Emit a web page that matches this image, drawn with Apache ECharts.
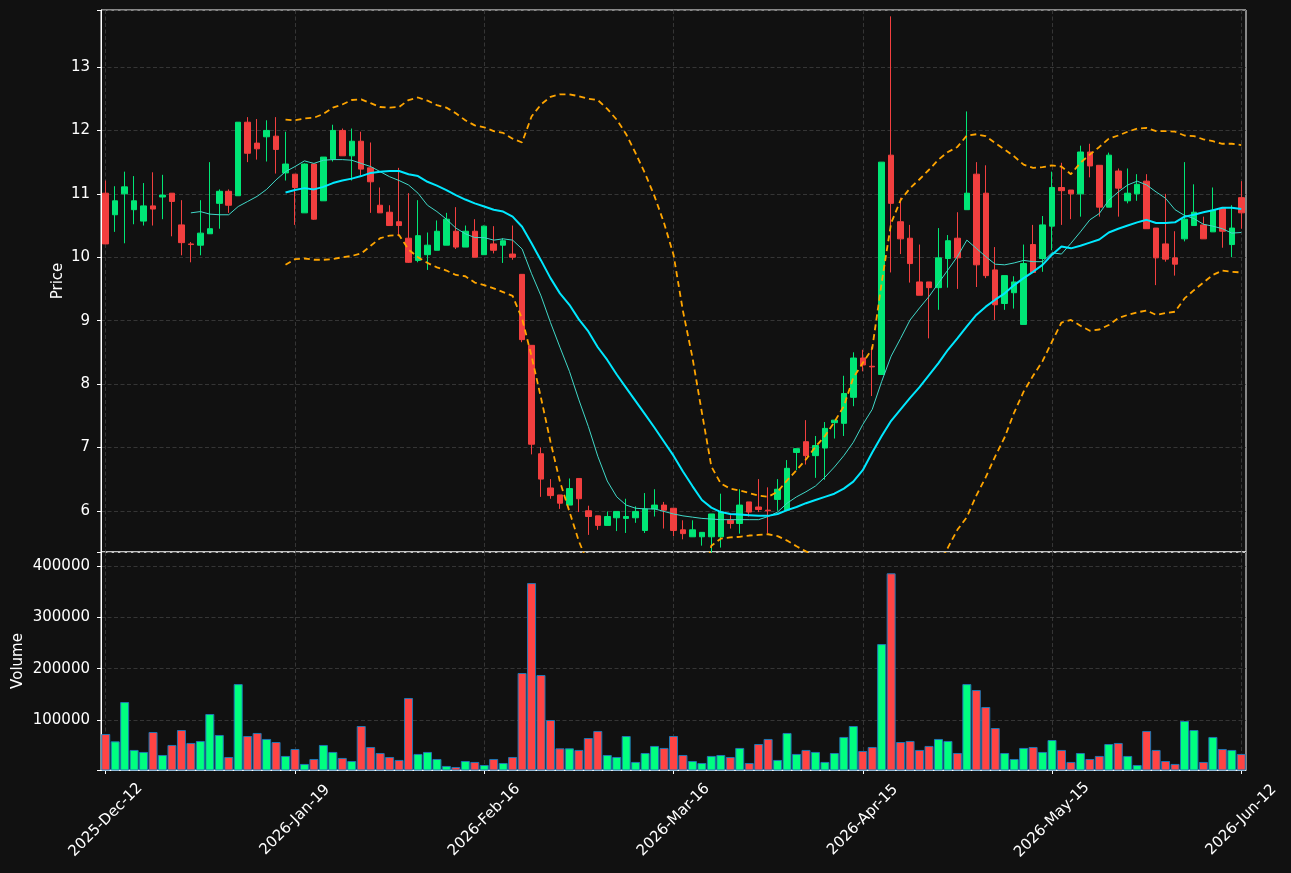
<!DOCTYPE html>
<html>
<head>
<meta charset="utf-8">
<title>Price / Volume</title>
<script src="https://cdn.jsdelivr.net/npm/echarts@6/dist/echarts.min.js"></script>
<style>
  html, body { margin: 0; padding: 0; background: #111111; }
  #chart { width: 1291px; height: 873px; }
</style>
</head>
<body>
<div id="chart"></div>
<script>
// tick labels shown every 20 bars
const tickLabels = ['2025-Dec-12', '2026-Jan-19', '2026-Feb-16', '2026-Mar-16', '2026-Apr-15', '2026-May-15', '2026-Jun-12'];
const tickEvery = 20;

const opens = [11.01, 10.67, 11.00, 10.75, 10.57, 10.81, 10.95, 11.01, 10.51, 10.21,
  10.19, 10.37, 10.85, 11.04, 10.97, 12.13, 11.80, 11.90, 11.91, 11.33,
  11.31, 10.70, 11.47, 10.89, 11.55, 12.00, 11.60, 11.83, 11.41, 10.82,
  10.71, 10.56, 10.30, 9.95, 10.04, 10.11, 10.19, 10.41, 10.16, 10.41,
  10.04, 10.21, 10.19, 10.05, 9.73, 8.61, 6.90, 6.36, 6.25, 6.09,
  6.51, 6.00, 5.92, 5.77, 5.89, 5.88, 5.89, 5.69, 6.03, 6.09,
  6.04, 5.70, 5.59, 5.59, 5.59, 5.59, 5.85, 5.80, 6.14, 6.06,
  6.01, 6.18, 6.01, 6.92, 7.09, 6.87, 6.99, 7.39, 7.38, 7.79,
  8.41, 8.28, 8.15, 11.61, 10.56, 10.30, 9.61, 9.61, 9.52, 9.98,
  10.30, 10.75, 11.31, 11.01, 9.80, 9.27, 9.44, 8.94, 10.20, 9.98,
  10.49, 11.10, 11.06, 11.00, 11.66, 11.45, 10.79, 11.36, 10.89, 11.00,
  11.20, 10.46, 10.21, 9.99, 10.29, 10.50, 10.51, 10.40, 10.77, 10.20,
  10.94];

const closes = [10.21, 10.89, 11.11, 10.89, 10.81, 10.76, 10.98, 10.88, 10.23, 10.20,
  10.38, 10.45, 11.04, 10.82, 12.13, 11.64, 11.71, 12.00, 11.70, 11.47,
  11.10, 11.47, 10.60, 11.58, 12.00, 11.60, 11.83, 11.39, 11.19, 10.70,
  10.50, 10.50, 9.92, 10.34, 10.19, 10.41, 10.60, 10.16, 10.41, 10.00,
  10.49, 10.11, 10.26, 10.00, 8.70, 7.05, 6.50, 6.24, 6.12, 6.35,
  6.19, 5.91, 5.77, 5.91, 5.99, 5.91, 5.99, 6.03, 6.09, 6.01,
  5.69, 5.64, 5.70, 5.66, 5.95, 5.98, 5.80, 6.09, 5.98, 6.02,
  6.00, 6.34, 6.67, 6.98, 6.87, 7.03, 7.30, 7.43, 7.85, 8.41,
  8.30, 8.27, 11.50, 10.85, 10.29, 9.90, 9.40, 9.52, 9.99, 10.26,
  9.99, 11.01, 9.88, 9.71, 9.25, 9.71, 9.61, 9.90, 9.76, 10.51,
  11.10, 11.05, 11.00, 11.66, 11.44, 10.79, 11.61, 11.09, 11.01, 11.15,
  10.45, 9.99, 9.97, 9.89, 10.60, 10.71, 10.29, 10.74, 10.41, 10.46,
  10.70];

const highs = [11.21, 11.12, 11.35, 11.28, 11.17, 11.34, 11.30, 11.01, 10.90, 10.24,
  10.90, 11.50, 11.07, 11.07, 12.13, 12.21, 12.18, 12.16, 12.21, 11.98,
  11.31, 11.48, 11.47, 11.58, 12.09, 12.03, 12.03, 11.98, 11.81, 11.10,
  10.82, 11.41, 11.01, 10.90, 10.39, 10.58, 10.70, 10.79, 10.50, 10.60,
  10.50, 10.49, 10.30, 10.50, 9.73, 8.61, 7.00, 6.50, 6.25, 6.51,
  6.51, 6.08, 5.92, 5.99, 5.99, 6.19, 6.07, 6.28, 6.34, 6.14,
  6.04, 5.85, 5.85, 5.66, 5.95, 6.27, 5.93, 6.34, 6.14, 6.50,
  6.37, 6.50, 6.80, 6.98, 7.43, 7.18, 7.40, 7.43, 8.13, 8.50,
  8.54, 8.59, 11.50, 13.80, 10.94, 10.51, 10.20, 9.61, 10.46, 10.35,
  10.71, 12.30, 11.50, 11.45, 10.16, 9.71, 9.70, 10.20, 10.51, 10.65,
  11.35, 11.49, 11.06, 11.76, 11.79, 11.45, 11.65, 11.40, 11.40, 11.31,
  11.31, 10.46, 11.00, 10.41, 11.50, 11.15, 10.64, 11.10, 10.77, 10.82,
  11.20];

const lows = [10.21, 10.40, 10.22, 10.52, 10.50, 10.50, 10.60, 10.33, 10.03, 9.92,
  10.03, 10.37, 10.45, 10.70, 10.97, 11.50, 11.54, 11.51, 11.32, 11.21,
  10.51, 10.70, 10.59, 10.89, 11.51, 11.60, 11.21, 11.29, 10.70, 10.70,
  10.50, 10.33, 9.91, 9.92, 9.80, 10.11, 10.19, 10.13, 10.16, 10.00,
  10.04, 10.06, 9.91, 9.96, 8.66, 6.89, 6.22, 6.19, 6.03, 6.09,
  5.98, 5.62, 5.70, 5.77, 5.68, 5.65, 5.81, 5.65, 5.91, 5.72,
  5.60, 5.55, 5.59, 5.45, 5.34, 5.42, 5.72, 5.64, 5.91, 5.98,
  5.64, 6.00, 6.01, 6.64, 6.73, 6.52, 6.49, 7.14, 7.18, 7.65,
  8.20, 7.81, 8.15, 9.76, 10.05, 9.60, 9.40, 8.72, 9.17, 9.52,
  9.50, 10.75, 9.53, 9.67, 9.01, 9.17, 9.19, 8.94, 9.76, 9.77,
  10.11, 10.51, 10.60, 10.64, 11.26, 10.64, 10.79, 10.64, 10.85, 10.89,
  10.45, 9.56, 9.93, 9.71, 10.25, 10.50, 10.29, 10.40, 10.15, 10.00,
  10.45];

const volumes = [72700, 58400, 135000, 41600, 37700, 76600, 31800, 51300, 80500, 55200,
  59100, 111700, 70800, 27900, 170000, 68800, 74700, 63000, 57100, 29900,
  43500, 14300, 24000, 51300, 37700, 26000, 20100, 88300, 47400, 35700,
  27900, 22100, 142900, 33800, 37700, 24000, 10400, 8400, 20100, 18200,
  12300, 24000, 16200, 27900, 191600, 366900, 187700, 100000, 44800, 44800,
  41600, 64900, 78600, 31800, 27900, 68800, 18200, 35700, 49400, 45500,
  68800, 31800, 20100, 16200, 29900, 31800, 27900, 45500, 16200, 53200,
  63000, 22100, 74700, 33800, 41600, 37700, 18200, 35700, 66900, 88300,
  39600, 47400, 248000, 386000, 57100, 59100, 41600, 49400, 63000, 59100,
  35700, 170000, 158400, 125300, 84400, 35700, 24000, 45500, 47400, 37700,
  61000, 41600, 18200, 35700, 24000, 29900, 53200, 55200, 29900, 12300,
  78600, 41600, 20100, 14300, 98000, 80500, 18200, 66900, 43500, 41600,
  33800];

// moving averages and bollinger bands
const ma10 = [null, null, null, null, null, null, null, null, null,
  10.70, 10.72, 10.68, 10.67, 10.67, 10.80, 10.88, 10.96, 11.07, 11.22, 11.35,
  11.43, 11.52, 11.48, 11.53, 11.54, 11.54, 11.53, 11.48, 11.43, 11.35,
  11.27, 11.21, 11.14, 11.01, 10.82, 10.72, 10.60, 10.46, 10.37, 10.31,
  10.31, 10.27, 10.29, 10.27, 10.13, 9.74, 9.39, 8.97, 8.58, 8.20,
  7.75, 7.33, 6.86, 6.47, 6.22, 6.09, 6.04, 6.03, 6.03, 5.99,
  5.95, 5.92, 5.90, 5.88, 5.87, 5.86, 5.86, 5.86, 5.86, 5.86,
  5.91, 5.98, 6.12, 6.22, 6.30, 6.39, 6.53, 6.69, 6.87, 7.08,
  7.36, 7.60, 8.04, 8.44, 8.72, 9.01, 9.20, 9.38, 9.59, 9.80,
  10.01, 10.27, 10.14, 10.01, 9.89, 9.88, 9.91, 9.95, 9.93, 9.93,
  10.07, 10.05, 10.22, 10.40, 10.59, 10.69, 10.90, 11.03, 11.14, 11.20,
  11.14, 11.03, 10.93, 10.75, 10.66, 10.61, 10.52, 10.49, 10.45, 10.38, 10.39];

const ma20 = [null, null, null, null, null, null, null, null, null, null,
  null, null, null, null, null, null, null, null, null, 11.02,
  11.06, 11.09, 11.07, 11.11, 11.17, 11.21, 11.24, 11.28, 11.33, 11.35,
  11.36, 11.36, 11.31, 11.28, 11.19, 11.13, 11.06, 10.98, 10.91, 10.85,
  10.80, 10.75, 10.72, 10.64, 10.48, 10.22, 9.95, 9.67, 9.43, 9.25,
  9.02, 8.83, 8.58, 8.38, 8.15, 7.94, 7.73, 7.52, 7.31, 7.09,
  6.87, 6.62, 6.39, 6.17, 6.05, 5.98, 5.95, 5.94, 5.93, 5.92,
  5.92, 5.95, 6.01, 6.06, 6.12, 6.17, 6.22, 6.27, 6.35, 6.46,
  6.64, 6.92, 7.18, 7.42, 7.60, 7.78, 7.95, 8.14, 8.33, 8.54,
  8.72, 8.91, 9.09, 9.22, 9.33, 9.43, 9.56, 9.67, 9.77, 9.88,
  10.04, 10.17, 10.14, 10.18, 10.23, 10.28, 10.39, 10.45, 10.50, 10.55,
  10.59, 10.54, 10.54, 10.55, 10.64, 10.67, 10.71, 10.74, 10.78, 10.78, 10.76];

const bandUpper = [null, null, null, null, null, null, null, null, null, null,
  null, null, null, null, null, null, null, null, null, 12.17,
  12.16, 12.19, 12.20, 12.26, 12.36, 12.41, 12.48, 12.49, 12.43, 12.37,
  12.36, 12.37, 12.48, 12.52, 12.47, 12.40, 12.36, 12.27, 12.16, 12.08,
  12.05, 11.99, 11.96, 11.87, 11.81, 12.22, 12.41, 12.53, 12.57, 12.57,
  12.54, 12.50, 12.48, 12.34, 12.17, 11.94, 11.64, 11.32, 10.96, 10.54,
  10.04, 9.15, 8.42, 7.55, 6.70, 6.43, 6.35, 6.32, 6.28, 6.24,
  6.22, 6.30, 6.48, 6.64, 6.81, 7.01, 7.18, 7.40, 7.65, 8.10,
  8.33, 8.56, 9.60, 10.54, 10.90, 11.09, 11.23, 11.38, 11.54, 11.66,
  11.74, 11.92, 11.94, 11.91, 11.80, 11.70, 11.59, 11.46, 11.41, 11.42,
  11.45, 11.43, 11.31, 11.49, 11.62, 11.74, 11.87, 11.92, 11.98, 12.03,
  12.04, 11.99, 11.99, 11.98, 11.92, 11.91, 11.86, 11.83, 11.79, 11.79, 11.77];

// values below 5.35 fall outside the panel and are only estimated
const bandLower = [null, null, null, null, null, null, null, null, null, null,
  null, null, null, null, null, null, null, null, null, 9.88,
  9.97, 9.98, 9.96, 9.96, 9.97, 10.00, 10.02, 10.06, 10.18, 10.30,
  10.34, 10.35, 10.12, 10.00, 9.91, 9.84, 9.79, 9.72, 9.70, 9.60,
  9.56, 9.51, 9.45, 9.39, 9.03, 8.44, 7.78, 7.09, 6.46, 5.99,
  5.52, 5.16, 4.68, 4.42, 4.13, 3.94, 3.82, 3.72, 3.66, 3.64,
  3.68, 4.09, 4.36, 4.79, 5.45, 5.56, 5.58, 5.59, 5.61, 5.62,
  5.63, 5.60, 5.53, 5.44, 5.36, 5.30, 5.24, 5.14, 5.05, 4.90,
  4.90, 4.95, 4.76, 4.30, 4.30, 4.40, 4.60, 4.86, 5.12, 5.42,
  5.70, 5.90, 6.24, 6.53, 6.86, 7.16, 7.55, 7.88, 8.13, 8.36,
  8.67, 8.97, 9.01, 8.92, 8.84, 8.86, 8.93, 9.04, 9.09, 9.13,
  9.16, 9.09, 9.12, 9.14, 9.35, 9.48, 9.60, 9.72, 9.79, 9.77, 9.76];

const upColor = '#00e676';
const downColor = '#f23f3f';
const volUp = '#00ff80';
const volDown = '#ff4444';
const fontFamily = 'DejaVu Sans';
const fontSize = 15;
const gridLine = { color: '#3f3f3f', width: 0.8, type: [4, 2.5] };

const chart = echarts.init(document.getElementById('chart'), null, { renderer: 'canvas' });

const categories = opens.map((o, i) => String(i));
const showTick = (index) => index % tickEvery === 0;

const candles = opens.map((o, i) => [o, closes[i], lows[i], highs[i]]);
const volumeBars = volumes.map((v, i) => ({
  value: v,
  itemStyle: { color: closes[i] >= opens[i] ? volUp : volDown }
}));

// only label round values, the panel edges are not round
function niceOnly(step) {
  return (v) => {
    const r = Math.round(v / step) * step;
    return Math.abs(v - r) < step * 1e-6 ? String(r) : '';
  };
}

const option = {
  backgroundColor: '#111111',
  animation: false,
  textStyle: { fontFamily: fontFamily },
  grid: [
    { left: 101, top: 10, width: 1145, height: 542, show: true, borderColor: '#ffffff', borderWidth: 1, backgroundColor: 'transparent' },
    { left: 101, top: 552, width: 1145, height: 218, show: true, borderColor: '#ffffff', borderWidth: 1, backgroundColor: 'transparent' }
  ],
  xAxis: [
    {
      type: 'category',
      gridIndex: 0,
      data: categories,
      boundaryGap: true,
      axisLine: { show: false },
      axisTick: { show: false },
      axisLabel: { show: false },
      splitLine: { show: true, interval: showTick, alignWithLabel: true, lineStyle: gridLine }
    },
    {
      type: 'category',
      gridIndex: 1,
      data: categories,
      boundaryGap: true,
      axisLine: { show: true, lineStyle: { color: '#ffffff', width: 1 } },
      axisTick: { show: true, interval: showTick, alignWithLabel: true, length: 4, lineStyle: { color: '#ffffff' } },
      axisLabel: {
        show: true,
        interval: showTick,
        formatter: (value, index) => tickLabels[Math.round(index / tickEvery)] || '',
        rotate: 45,
        align: 'center',
        verticalAlign: 'middle',
        margin: 50,
        color: '#ffffff',
        fontSize: fontSize,
        fontFamily: fontFamily
      },
      splitLine: { show: true, interval: showTick, alignWithLabel: true, lineStyle: gridLine }
    }
  ],
  yAxis: [
    {
      type: 'value',
      gridIndex: 0,
      min: 5.35,
      max: 13.9,
      splitNumber: 8,
      name: 'Price',
      nameLocation: 'middle',
      nameGap: 35,
      nameMoveOverlap: false,
      nameTextStyle: { color: '#ffffff', fontSize: fontSize, fontFamily: fontFamily },
      axisLine: { show: true, lineStyle: { color: '#ffffff' } },
      axisTick: { show: true, length: 4, lineStyle: { color: '#ffffff' } },
      axisLabel: { color: '#ffffff', fontSize: fontSize, margin: 11, formatter: niceOnly(1), fontFamily: fontFamily },
      splitLine: { show: true, lineStyle: gridLine }
    },
    {
      type: 'value',
      gridIndex: 1,
      min: 2500,
      max: 427500,
      splitNumber: 5,
      name: 'Volume',
      nameLocation: 'middle',
      nameGap: 75,
      nameMoveOverlap: false,
      nameTextStyle: { color: '#ffffff', fontSize: fontSize, fontFamily: fontFamily },
      axisLine: { show: true, lineStyle: { color: '#ffffff' } },
      axisTick: { show: true, length: 4, lineStyle: { color: '#ffffff' } },
      axisLabel: { color: '#ffffff', fontSize: fontSize, margin: 11, formatter: niceOnly(100000), fontFamily: fontFamily },
      splitLine: { show: true, lineStyle: gridLine }
    }
  ],
  series: [
    {
      name: 'OHLC',
      type: 'candlestick',
      xAxisIndex: 0,
      yAxisIndex: 0,
      data: candles,
      barWidth: 6,
      itemStyle: {
        color: upColor,
        color0: downColor,
        borderColor: upColor,
        borderColor0: downColor,
        borderWidth: 1
      }
    },
    {
      name: 'MA10',
      type: 'line',
      data: ma10,
      showSymbol: false,
      lineStyle: { color: '#40d8c8', width: 1 }
    },
    {
      name: 'MA20',
      type: 'line',
      data: ma20,
      showSymbol: false,
      lineStyle: { color: '#00e8ff', width: 2 }
    },
    {
      name: 'Upper',
      type: 'line',
      data: bandUpper,
      showSymbol: false,
      lineStyle: { color: '#ffa500', width: 1.8, type: [6, 4] }
    },
    {
      name: 'Lower',
      type: 'line',
      data: bandLower,
      showSymbol: false,
      lineStyle: { color: '#ffa500', width: 1.8, type: [6, 4] }
    },
    {
      name: 'Volume',
      type: 'bar',
      xAxisIndex: 1,
      yAxisIndex: 1,
      data: volumeBars,
      barCategoryGap: '5%',
      itemStyle: { borderColor: '#1f77b4', borderWidth: 1 }
    }
  ]
};

chart.setOption(option);
</script>
</body>
</html>
